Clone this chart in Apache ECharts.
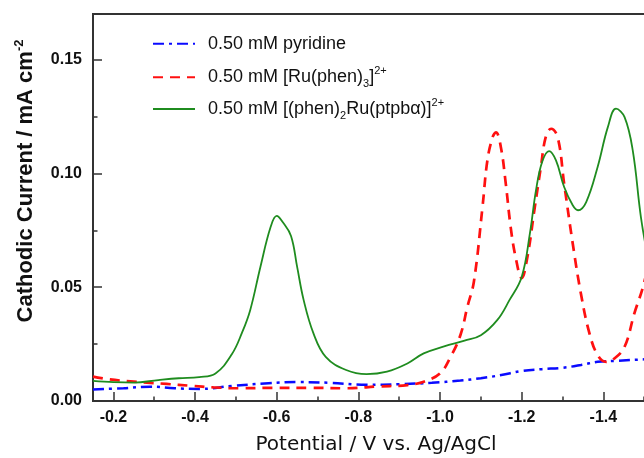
<!DOCTYPE html>
<html>
<head>
<meta charset="utf-8">
<script src="https://cdn.jsdelivr.net/npm/echarts@6/dist/echarts.min.js"></script>
<style>
html,body{margin:0;padding:0;background:#ffffff;}
#chart{width:644px;height:458px;}
</style>
</head>
<body>
<div id="chart"></div>
<script>
// ---- data ----
const seriesNames = [
  '0.50 mM pyridine',
  '0.50 mM [Ru(phen)3]2+',
  '0.50 mM [(phen)2Ru(ptpbα)]2+'
];
const legendLabels = [
  '0.50 mM pyridine',
  '0.50 mM [Ru(phen){sub|3}]{sup|2+}',
  '0.50 mM [(phen){sub|2}Ru(ptpbα)]{sup|2+}'
];
const xTitle = 'Potential / V vs. Ag/AgCl';
const yTitle = 'Cathodic Current / mA cm{sup|-2}';

const pyridinePotential = [-0.15,-0.225,-0.29,-0.35,-0.41,-0.49,-0.58,-0.65,-0.73,-0.82,-0.90,-0.98,-1.05,-1.10,-1.15,-1.20,-1.25,-1.30,-1.345,-1.386,-1.435,-1.50,-1.55];
const pyridineCurrent   = [0.0051,0.0056,0.0063,0.0056,0.0053,0.0066,0.0078,0.0083,0.0080,0.0071,0.0074,0.0080,0.0090,0.0100,0.0114,0.0132,0.0140,0.0146,0.0158,0.0172,0.0177,0.0183,0.0186];

const ruPotential = [-0.15,-0.19,-0.25,-0.29,-0.33,-0.39,-0.445,-0.51,-0.59,-0.68,-0.77,-0.85,-0.92,-0.96,-1.00,-1.026,-1.05,-1.067,-1.083,-1.104,-1.116,-1.129,-1.137,-1.149,-1.161,-1.173,-1.185,-1.200,-1.214,-1.231,-1.247,-1.259,-1.272,-1.288,-1.304,-1.325,-1.345,-1.366,-1.386,-1.407,-1.427,-1.452,-1.476,-1.497,-1.51];
const ruCurrent   = [0.0107,0.0095,0.0085,0.0080,0.0075,0.0067,0.0060,0.0056,0.0058,0.0058,0.0056,0.0064,0.0070,0.0085,0.0121,0.0194,0.0290,0.0414,0.0525,0.0852,0.1057,0.1160,0.1180,0.1115,0.0955,0.0764,0.0633,0.0540,0.0633,0.0838,0.1028,0.1160,0.1196,0.1160,0.0955,0.0692,0.0472,0.0297,0.0202,0.0172,0.0187,0.0238,0.0385,0.0500,0.0600];

const complexPotential = [-0.15,-0.20,-0.25,-0.31,-0.36,-0.41,-0.45,-0.49,-0.515,-0.535,-0.56,-0.585,-0.60,-0.615,-0.635,-0.65,-0.666,-0.69,-0.72,-0.77,-0.82,-0.87,-0.92,-0.96,-1.01,-1.06,-1.10,-1.14,-1.17,-1.20,-1.22,-1.235,-1.25,-1.267,-1.284,-1.304,-1.325,-1.338,-1.358,-1.386,-1.411,-1.431,-1.452,-1.472,-1.492,-1.51];
const complexCurrent   = [0.0088,0.0083,0.0081,0.0092,0.0100,0.0105,0.0121,0.0205,0.0300,0.0399,0.0589,0.0764,0.0813,0.0785,0.0725,0.0589,0.0443,0.0297,0.0194,0.0136,0.0118,0.0129,0.0165,0.0209,0.0240,0.0265,0.0289,0.0355,0.0443,0.0545,0.0735,0.0925,0.1050,0.1098,0.1057,0.0940,0.0860,0.0838,0.0874,0.1028,0.1203,0.1284,0.1247,0.1101,0.0808,0.0620];

// ---- chart ----
const FONT = "'Liberation Sans', Arial, sans-serif";
const AX = '#333333';
const pairs = (xs, ys) => xs.map((x, i) => [x, ys[i]]);
const isMult = (v, step) => Math.abs(v / step - Math.round(v / step)) < 1e-6;

const richLegend = {
  sub: { fontSize: 11, fontFamily: FONT, verticalAlign: 'bottom', lineHeight: 12, color: '#111' },
  sup: { fontSize: 11, fontFamily: FONT, verticalAlign: 'top', lineHeight: 12, color: '#111' }
};
const legendTops = [31.7, 65.3, 97];

const chart = echarts.init(document.getElementById('chart'), null, { renderer: 'canvas' });

const option = {
  backgroundColor: '#ffffff',
  animation: false,
  grid: {
    left: 93, top: 14, width: 592, height: 387,
    containLabel: false, outerBoundsMode: 'none',
    show: true, borderColor: AX, borderWidth: 2, backgroundColor: 'transparent'
  },
  legend: seriesNames.map((n, i) => ({
    data: [n],
    left: 152,
    top: legendTops[i],
    padding: 0,
    itemWidth: 42,
    itemHeight: 14,
    selectedMode: false,
    itemStyle: { color: 'transparent', borderColor: 'transparent', borderWidth: 0, opacity: 0 },
    formatter: () => legendLabels[i],
    textStyle: {
      fontFamily: FONT, fontSize: 18, color: '#111', lineHeight: 24,
      padding: [0, 0, 0, 8],
      rich: richLegend
    }
  })),
  xAxis: [
    {
      type: 'value', inverse: true, min: -1.6, max: -0.15, interval: 0.2,
      position: 'bottom',
      axisLine: { show: true, onZero: false, lineStyle: { color: AX, width: 2 } },
      axisTick: { show: true, inside: true, length: 9, lineStyle: { color: AX, width: 1.5 } },
      axisLabel: {
        show: true, margin: 9, color: '#111', fontFamily: FONT, fontSize: 16, fontWeight: 'bold',
        formatter: v => isMult(v, 0.2) ? v.toFixed(1) : ''
      },
      splitLine: { show: false }
    },
    {
      type: 'value', inverse: true, min: -1.6, max: -0.15, interval: 0.1,
      position: 'bottom',
      axisLine: { show: false },
      axisTick: { show: true, inside: true, length: 4.5, lineStyle: { color: AX, width: 1.5 } },
      axisLabel: { show: false },
      splitLine: { show: false }
    }
  ],
  yAxis: [
    {
      type: 'value', min: 0, max: 0.17, interval: 0.05,
      position: 'left',
      axisLine: { show: true, onZero: false, lineStyle: { color: AX, width: 2 } },
      axisTick: { show: true, inside: true, length: 9, lineStyle: { color: AX, width: 1.5 } },
      axisLabel: {
        show: true, margin: 11, color: '#111', fontFamily: FONT, fontSize: 16, fontWeight: 'bold',
        formatter: v => isMult(v, 0.05) ? v.toFixed(2) : ''
      },
      splitLine: { show: false }
    },
    {
      type: 'value', min: 0, max: 0.17, interval: 0.025,
      position: 'left',
      axisLine: { show: false },
      axisTick: { show: true, inside: true, length: 4.5, lineStyle: { color: AX, width: 1.5 } },
      axisLabel: { show: false },
      splitLine: { show: false }
    }
  ],
  graphic: [
    {
      type: 'text', x: 376, y: 445, silent: true,
      style: { text: xTitle, fontFamily: "'DejaVu Sans', sans-serif", fontSize: 20, fill: '#111', align: 'center', verticalAlign: 'middle' }
    },
    {
      type: 'text', x: 26, y: 181, rotation: Math.PI / 2, silent: true,
      style: {
        text: yTitle, fontFamily: FONT, fontSize: 22, fontWeight: 'bold', fill: '#111',
        align: 'center', verticalAlign: 'middle', lineHeight: 26,
        rich: { sup: { fontSize: 13, fontFamily: FONT, fontWeight: 'bold', verticalAlign: 'top', lineHeight: 13, fill: '#111' } }
      }
    }
  ],
  series: [
    {
      name: seriesNames[0], type: 'line', xAxisIndex: 0, yAxisIndex: 0,
      data: pairs(pyridinePotential, pyridineCurrent),
      smooth: 0.4, symbol: 'none', showSymbol: false, z: 3,
      lineStyle: { color: '#0a0aff', width: 2.5, type: [11, 5, 3, 5] },
      itemStyle: { color: '#0a0aff' }
    },
    {
      name: seriesNames[1], type: 'line', xAxisIndex: 0, yAxisIndex: 0,
      data: pairs(ruPotential, ruCurrent),
      smooth: 0.4, symbol: 'none', showSymbol: false, z: 4,
      lineStyle: { color: '#ff1010', width: 2.7, type: [10, 7] },
      itemStyle: { color: '#ff1010' }
    },
    {
      name: seriesNames[2], type: 'line', xAxisIndex: 0, yAxisIndex: 0,
      data: pairs(complexPotential, complexCurrent),
      smooth: 0.4, symbol: 'none', showSymbol: false, z: 5,
      lineStyle: { color: '#1f8c1f', width: 1.8, type: 'solid' },
      itemStyle: { color: '#1f8c1f' }
    }
  ]
};
chart.setOption(option);
</script>
</body>
</html>
